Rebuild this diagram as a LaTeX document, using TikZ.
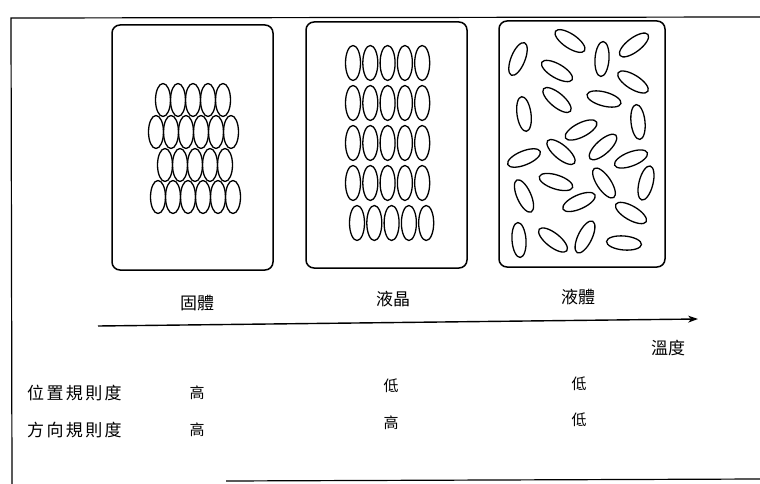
\documentclass[tikz,border=0pt]{standalone}
\usepackage{fontspec}
\newfontfamily\cjk{Noto Sans CJK TC}
\newfontfamily\cjkwide{Noto Sans CJK TC}[LetterSpace=14]
\usetikzlibrary{arrows.meta}

\begin{document}
\begin{tikzpicture}[x=1pt, y=-1pt,
    cell/.style  = {draw, line width=1.5pt, rounded corners=8pt},% the three sample boxes
    grain/.style = {draw, line width=1.3pt},% one molecule
    phase/.style = {font=\cjk\fontsize{17}{19}\selectfont, inner sep=0pt},
    rowlab/.style= {font=\cjkwide\fontsize{17}{19}\selectfont, inner sep=0pt, anchor=west},
    grade/.style = {font=\cjk\fontsize{15}{17}\selectfont, inner sep=0pt},
    axis/.style  = {line width=1.4pt, -{Stealth[length=10pt,width=7pt]}},
                        ]
\useasboundingbox (0,0) rectangle (760,484);
% outer frame (open on the right)
\draw[line width=1.2pt] (760,17) -- (11,18) -- (12,484);
\draw[line width=1.2pt] (226,481) -- (760,479);

% sample boxes
\draw[cell] (112,25) rectangle (273,270);
\draw[cell] (306,22) rectangle (467,268);
\draw[cell] (499,21) rectangle (665,267);

% solid: packed, staggered rows
\foreach \y/\x/\n in {100/163/4, 132/156/5, 165/165/4, 197/158/5}% <-- row y / first x / last index
    \foreach \k in {0,...,\n}
        \draw[grain] (\x+15*\k,\y) ellipse (7.5 and 16.5);

% liquid crystal: aligned columns
\foreach \y/\x in {63/353, 103/353, 143/353, 183/353, 223/357}
    \foreach \k in {0,...,4}
        \draw[grain] (\x+17.3*\k,\y) ellipse (7.5 and 17.5);

% liquid: random positions and directions
\foreach \x/\y/\a in {518/59/68, 570/41/-34, 602/59/86, 634/45/37, 557/71/-30,
                      633/82/-32, 557/100/-40, 604/99/-15, 524/114/-82, 638/122/-84,
                      581/130/27, 603/147/42, 561/152/-40, 524/158/22, 631/159/21,
                      646/183/76, 556/182/-18, 604/183/-56, 524/196/-66, 579/202/24,
                      631/213/-30, 519/240/-86, 553/240/-38, 585/237/64, 624/243/-5}
    \draw[grain, rotate around={\a:(\x,\y)}] (\x,\y) ellipse (17.5 and 7);

% phase names
\node[phase] (solid)  at (197,303) {固體};
\node[phase] (lcryst) at (393,299) {液晶};
\node[phase] (liquid) at (578,297) {液體};

% temperature axis
\coordinate (cold) at (98,326);
\coordinate (warm) at (698,319);
\draw[axis] (cold) -- (warm);
\node[phase] (temp) at (668,348) {溫度};

% order table
\node[rowlab] (pos) at (27,393) {位置規則度};
\node[rowlab] (dir) at (27,430) {方向規則度};
\node[grade] (pos-s) at (197,393) {高};
\node[grade] (dir-s) at (197,430) {高};
\node[grade] (pos-c) at (391,386) {低};
\node[grade] (dir-c) at (391,423) {高};
\node[grade] (pos-l) at (579,384) {低};
\node[grade] (dir-l) at (579,420) {低};
\end{tikzpicture}
\end{document}
